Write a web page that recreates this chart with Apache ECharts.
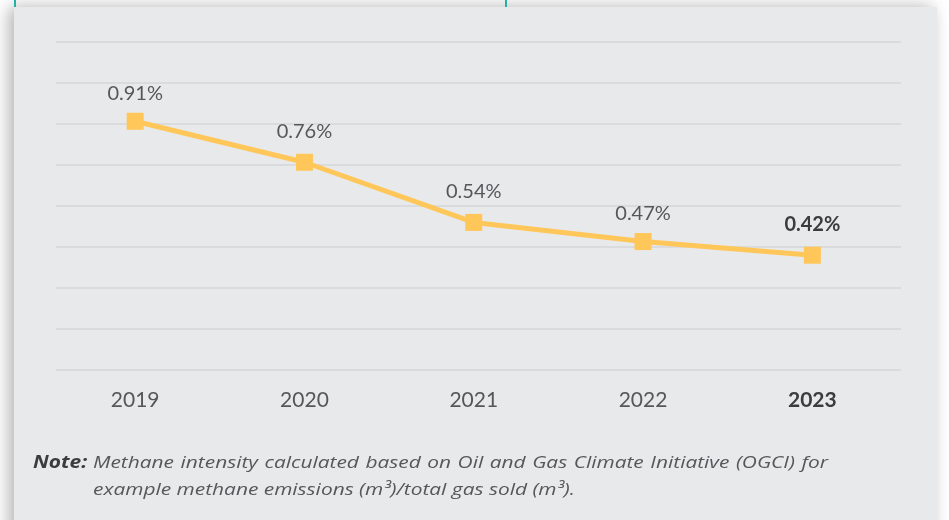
<!DOCTYPE html>
<html>
<head>
<meta charset="utf-8">
<script src="https://cdn.jsdelivr.net/npm/echarts@6/dist/echarts.min.js"></script>
<style>
  html, body { margin: 0; padding: 0; background: #ffffff; }
  #chart { width: 949px; height: 520px; }
</style>
</head>
<body>
<div id="chart"></div>
<script>
(function () {
  "use strict";

  // Methane intensity by year (%)
  var YEARS = ["2019", "2020", "2021", "2022", "2023"];
  var INTENSITY = [0.91, 0.76, 0.54, 0.47, 0.42];
  var GRID_STEPS = [0, 1, 2, 3, 4, 5, 6, 7, 8]; // background rule lines

  var NOTE_LABEL = "Note:";
  var NOTE_LINE_1 = "Methane intensity calculated based on Oil and Gas Climate Initiative (OGCI) for";
  var NOTE_LINE_2 = "example methane emissions (m\u00b3)/total gas sold (m\u00b3).";

  var FONT = "Lato, 'Open Sans', sans-serif";
  var NOTE_FAMILY = "'Open Sans', Lato, sans-serif";
  var TEXT = "#555759";
  var STRONG = "#3b3c3e";
  var LINE = "#ffc659";

  var last = YEARS.length - 1;

  // measure text with a scratch canvas so the first note line can be justified
  var ctx = document.createElement("canvas").getContext("2d");
  function textWidth(str, font) {
    ctx.font = font;
    return ctx.measureText(str).width;
  }

  var noteFont = "italic 17px " + NOTE_FAMILY;
  var boldFont = "italic bold 17px " + NOTE_FAMILY;
  // the source face is wider than anything installed; stretch to its line length
  var stretch = 482 / textWidth(NOTE_LINE_2, noteFont);

  function noteText(str, x, y, font, color) {
    return {
      type: "text", x: x, y: y, scaleX: stretch, silent: true,
      style: { text: str, font: font, fill: color, textVerticalAlign: "middle" }
    };
  }

  function justifiedLine(str, x0, x1, y, font, color) {
    var words = str.split(" ");
    var widths = words.map(function (w) { return textWidth(w, font) * stretch; });
    var total = widths.reduce(function (a, b) { return a + b; }, 0);
    var gap = (x1 - x0 - total) / (words.length - 1);
    var out = [], x = x0;
    words.forEach(function (w, i) {
      out.push(noteText(w, x, y, font, color));
      x += widths[i] + gap;
    });
    return out;
  }

  var noteGraphics = [
    noteText(NOTE_LABEL, 33, 463, boldFont, STRONG),
    noteText(NOTE_LINE_2, 93, 490, noteFont, TEXT)
  ].concat(justifiedLine(NOTE_LINE_1, 93, 828, 463, noteFont, TEXT));

  var chart = echarts.init(document.getElementById("chart"), null, { renderer: "canvas" });

  var option = {
    animation: false,
    backgroundColor: "transparent",
    textStyle: { fontFamily: FONT },
    graphic: [
      {
        type: "rect", z: -10, silent: true,
        shape: { x: 14, y: 7, width: 923, height: 540 },
        style: {
          fill: "#e8e9eb",
          shadowBlur: 16, shadowColor: "rgba(0,0,0,0.3)", shadowOffsetX: -5
        }
      },
      { type: "line", silent: true, shape: { x1: 15, y1: 0, x2: 15, y2: 7 }, style: { stroke: "#1fb3a6", lineWidth: 2 } },
      { type: "line", silent: true, shape: { x1: 506, y1: 0, x2: 506, y2: 7 }, style: { stroke: "#1fb3a6", lineWidth: 2 } }
    ].concat(noteGraphics),
    grid: [
      // rule lines span slightly wider than the plotted categories
      { left: 56, right: 48, top: 42, height: 328 },
      { left: 50.5, width: 846.5, top: 42, height: 328 }
    ],
    xAxis: [
      { gridIndex: 0, type: "value", min: 0, max: 1, show: false },
      {
        gridIndex: 1, type: "category", data: YEARS, boundaryGap: true,
        axisLine: { show: false }, axisTick: { show: false },
        axisLabel: {
          margin: 20, fontSize: 21, color: TEXT, fontFamily: FONT,
          formatter: function (v, i) { return i === last ? "{b|" + v + "}" : v; },
          rich: { b: { fontSize: 21, fontWeight: "bold", color: STRONG, fontFamily: FONT } }
        }
      }
    ],
    yAxis: [
      {
        gridIndex: 0, type: "value", min: GRID_STEPS[0], max: GRID_STEPS[GRID_STEPS.length - 1], interval: 1,
        axisLine: { show: false }, axisTick: { show: false }, axisLabel: { show: false },
        splitLine: { lineStyle: { color: "#d5d6d8", width: 1.6 } }
      },
      { gridIndex: 1, type: "value", min: 0, max: 1.2, show: false, splitLine: { show: false } }
    ],
    series: [
      {
        type: "line", xAxisIndex: 1, yAxisIndex: 1,
        data: INTENSITY.map(function (v, i) {
          var item = { value: v };
          if (i === last) item.label = { fontWeight: "bold", color: STRONG };
          if (i === 0 || i === 3) item.label = { distance: 9 };
          return item;
        }),
        symbol: "rect", symbolSize: 17,
        lineStyle: { color: LINE, width: 5 },
        itemStyle: { color: LINE },
        label: {
          show: true, position: "top", distance: 12,
          fontSize: 20, color: TEXT, fontFamily: FONT,
          formatter: function (p) { return p.value.toFixed(2) + "%"; }
        }
      }
    ]
  };

  chart.setOption(option);
})();
</script>
</body>
</html>
